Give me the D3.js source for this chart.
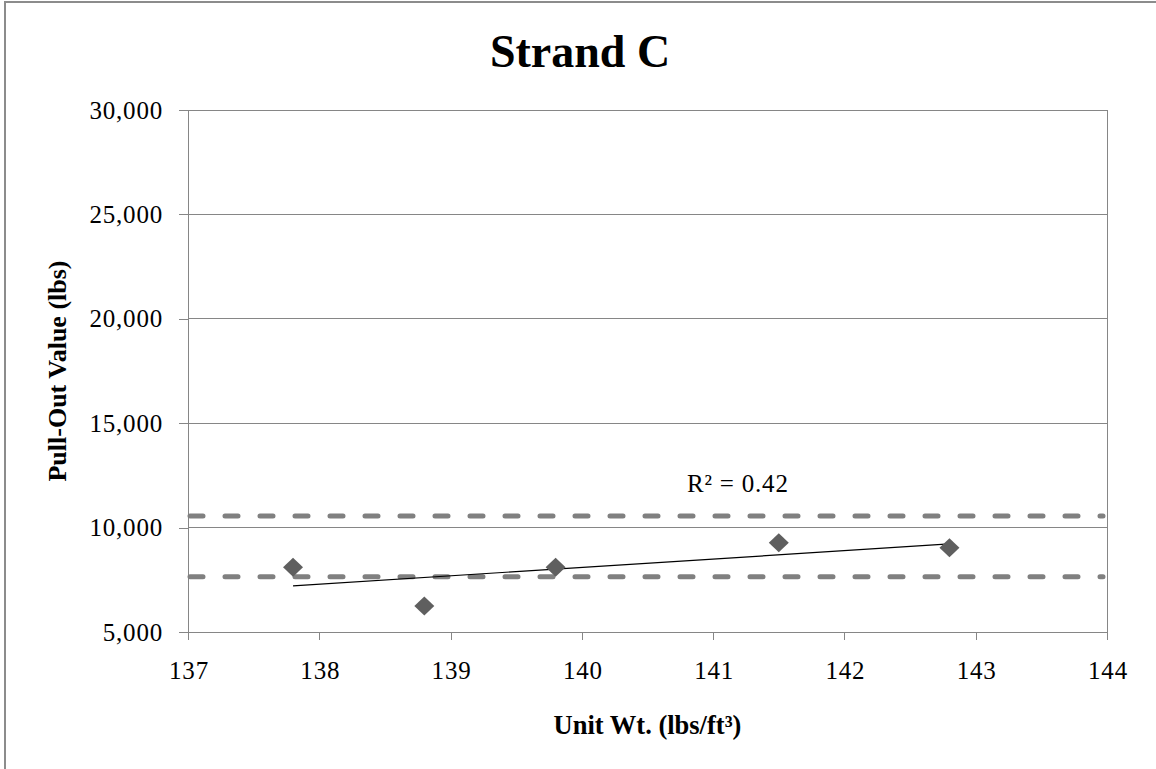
<!DOCTYPE html>
<html>
<head>
<meta charset="utf-8">
<script src="https://cdn.jsdelivr.net/npm/d3@7"></script>
<style>
  html, body { margin: 0; padding: 0; background: #fff; }
  svg { display: block; }
</style>
</head>
<body>
<svg id="chart" width="1156" height="769"></svg>
<script>
// ---- Data ----
const title = "Strand C";
const xLabel = "Unit Wt. (lbs/ft³)";
const yLabel = "Pull-Out Value (lbs)";
const unitWeight = [137.8, 138.8, 139.8, 141.5, 142.8];
const pullOut = [8100, 6250, 8100, 9270, 9030];
const upperBound = 10550;
const lowerBound = 7650;
const rSquaredLabel = "R² = 0.42";
const xTicks = [137, 138, 139, 140, 141, 142, 143, 144];
const yTicks = [5000, 10000, 15000, 20000, 25000, 30000];

// ---- Layout ----
const FONT = '"Liberation Serif", "Times New Roman", Times, serif';
const svg = d3.select("#chart");
const plotLeft = 188, plotRight = 1107, plotTop = 110, plotBottom = 632;
const x = d3.scaleLinear().domain([137, 144]).range([plotLeft, plotRight]);
const y = d3.scaleLinear().domain([5000, 30000]).range([plotBottom, plotTop]);
const gridColor = "#868686";

// outer chart border
svg.append("rect")
  .attr("x", 5).attr("y", 2)
  .attr("width", 1200).attr("height", 800)
  .attr("fill", "#fff")
  .attr("stroke", "#8c8c8c").attr("stroke-width", 2);

// gridlines
svg.append("g").selectAll("line")
  .data(yTicks.filter(d => d > 5000))
  .join("line")
  .attr("x1", plotLeft).attr("x2", plotRight)
  .attr("y1", d => y(d)).attr("y2", d => y(d))
  .attr("stroke", gridColor).attr("stroke-width", 1)
  .attr("shape-rendering", "crispEdges");

// right plot border
svg.append("line")
  .attr("x1", plotRight).attr("x2", plotRight)
  .attr("y1", plotTop).attr("y2", plotBottom)
  .attr("stroke", gridColor).attr("stroke-width", 1)
  .attr("shape-rendering", "crispEdges");

// axes
const yAxis = d3.axisLeft(y).tickValues(yTicks).tickFormat(d3.format(","))
  .tickSizeInner(9).tickSizeOuter(0).tickPadding(17);
const xAxis = d3.axisBottom(x).tickValues(xTicks).tickFormat(d3.format("d"))
  .tickSizeInner(8).tickSizeOuter(0).tickPadding(21);

const gy = svg.append("g").attr("transform", `translate(${plotLeft},0)`).call(yAxis);
const gx = svg.append("g").attr("transform", `translate(0,${plotBottom})`).call(xAxis);
[gx, gy].forEach(g => {
  g.attr("font-family", null).attr("font-size", null);
  g.select(".domain").attr("stroke", gridColor).attr("shape-rendering", "crispEdges");
  g.selectAll(".tick line").attr("stroke", gridColor).attr("shape-rendering", "crispEdges");
  g.selectAll(".tick text")
    .attr("fill", "#000")
    .style("font-family", FONT)
    .style("font-size", "25px")
    .style("letter-spacing", "0.8px");
});
gy.selectAll(".tick text").attr("dx", "1px");
gx.selectAll(".tick text").attr("dx", "0.5px");

// bound lines (dashed)
svg.append("g").selectAll("line")
  .data([upperBound, lowerBound])
  .join("line")
  .attr("x1", plotLeft + 2).attr("x2", plotRight - 4)
  .attr("y1", d => y(d)).attr("y2", d => y(d))
  .attr("stroke", "#808080").attr("stroke-width", 5)
  .attr("stroke-linecap", "round")
  .attr("stroke-dasharray", "13,22");

// linear trendline (least squares)
const n = unitWeight.length;
const mx = d3.mean(unitWeight), my = d3.mean(pullOut);
let sxy = 0, sxx = 0;
for (let i = 0; i < n; i++) {
  sxy += (unitWeight[i] - mx) * (pullOut[i] - my);
  sxx += (unitWeight[i] - mx) ** 2;
}
const slope = sxy / sxx, intercept = my - slope * mx;
const xMin = d3.min(unitWeight), xMax = d3.max(unitWeight);
svg.append("line")
  .attr("x1", x(xMin)).attr("y1", y(intercept + slope * xMin))
  .attr("x2", x(xMax)).attr("y2", y(intercept + slope * xMax))
  .attr("stroke", "#000").attr("stroke-width", 1.2);

// data markers (diamonds)
const pts = unitWeight.map((u, i) => ({ u, p: pullOut[i] }));
svg.append("g").selectAll("path")
  .data(pts)
  .join("path")
  .attr("d", d => {
    const cx = x(d.u), cy = y(d.p), hw = 10, hh = 9.5;
    return `M${cx},${cy - hh}L${cx + hw},${cy}L${cx},${cy + hh}L${cx - hw},${cy}Z`;
  })
  .attr("fill", "#5f5f5f");

// R² label
svg.append("text")
  .attr("x", 687).attr("y", 492)
  .style("font-family", FONT)
  .style("font-size", "25px")
  .style("letter-spacing", "0.8px")
  .attr("fill", "#000")
  .text(rSquaredLabel);

// title
svg.append("text")
  .attr("x", 580).attr("y", 67)
  .attr("text-anchor", "middle")
  .style("font-family", FONT)
  .style("font-size", "46px").style("font-weight", "700")
  .attr("fill", "#000")
  .text(title);

// x axis title
svg.append("text")
  .attr("x", (plotLeft + plotRight) / 2).attr("y", 734)
  .attr("text-anchor", "middle")
  .style("font-family", FONT)
  .style("font-size", "26.5px").style("font-weight", "700")
  .attr("fill", "#000")
  .text(xLabel);

// y axis title
svg.append("text")
  .attr("transform", `translate(66,${(plotTop + plotBottom) / 2}) rotate(-90)`)
  .attr("text-anchor", "middle")
  .style("font-family", FONT)
  .style("font-size", "26px").style("font-weight", "700")
  .attr("fill", "#000")
  .text(yLabel);
</script>
</body>
</html>
